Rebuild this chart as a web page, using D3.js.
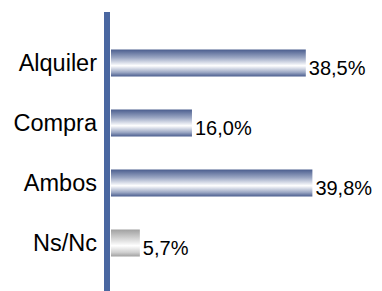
<!DOCTYPE html>
<html>
<head>
<meta charset="utf-8">
<script src="https://cdn.jsdelivr.net/npm/d3@7"></script>
<style>
  body { margin: 0; background: #fff; }
  text { font-family: Arial, "Liberation Sans", sans-serif; fill: #000; }
</style>
</head>
<body>
<script>
// data
const categories = ["Alquiler", "Compra", "Ambos", "Ns/Nc"];
const values = [38.5, 16.0, 39.8, 5.7];
const labels = ["38,5%", "16,0%", "39,8%", "5,7%"];

const width = 382, height = 291;
const svg = d3.select("body").append("svg")
  .attr("width", width)
  .attr("height", height);

const x0 = 111;
const xScale = d3.scaleLinear().domain([0, 10]).range([x0, x0 + 50.6]);
const yScale = d3.scaleBand()
  .domain(categories)
  .range([33, 273])
  .paddingInner(0.55)
  .paddingOuter(0.275);

// gradients
const defs = svg.append("defs");
const makeGrad = (id, dark, mid) => {
  const g = defs.append("linearGradient")
    .attr("id", id).attr("x1", 0).attr("y1", 0).attr("x2", 0).attr("y2", 1);
  g.append("stop").attr("offset", "0%").attr("stop-color", dark);
  g.append("stop").attr("offset", "30%").attr("stop-color", mid);
  g.append("stop").attr("offset", "60%").attr("stop-color", "#ffffff");
  g.append("stop").attr("offset", "85%").attr("stop-color", mid);
  g.append("stop").attr("offset", "100%").attr("stop-color", dark);
};
makeGrad("gBlue", "#4a5d8e", "#9aa6c3");
makeGrad("gGray", "#a0a0a0", "#cfcfcf");

// bars
svg.selectAll("rect.bar")
  .data(categories)
  .enter()
  .append("rect")
  .attr("class", "bar")
  .attr("x", x0)
  .attr("y", d => yScale(d))
  .attr("width", (d, i) => xScale(values[i]) - x0)
  .attr("height", yScale.bandwidth())
  .attr("fill", (d, i) => i === 3 ? "url(#gGray)" : "url(#gBlue)");

// value labels
svg.selectAll("text.val")
  .data(categories)
  .enter()
  .append("text")
  .attr("class", "val")
  .attr("x", (d, i) => xScale(values[i]) + 3)
  .attr("y", d => yScale(d) + yScale.bandwidth() - 2)
  .style("font-size", "20px")
  .text((d, i) => labels[i]);

// category labels
svg.selectAll("text.cat")
  .data(categories)
  .enter()
  .append("text")
  .attr("class", "cat")
  .attr("x", 97)
  .attr("y", d => yScale(d) + yScale.bandwidth() / 2 + 8)
  .attr("text-anchor", "end")
  .style("font-size", "23.5px")
  .text(d => d);

// axis line
svg.append("rect")
  .attr("x", 104)
  .attr("y", 12)
  .attr("width", 6)
  .attr("height", height - 12)
  .attr("fill", "#4a67a1");
</script>
</body>
</html>
